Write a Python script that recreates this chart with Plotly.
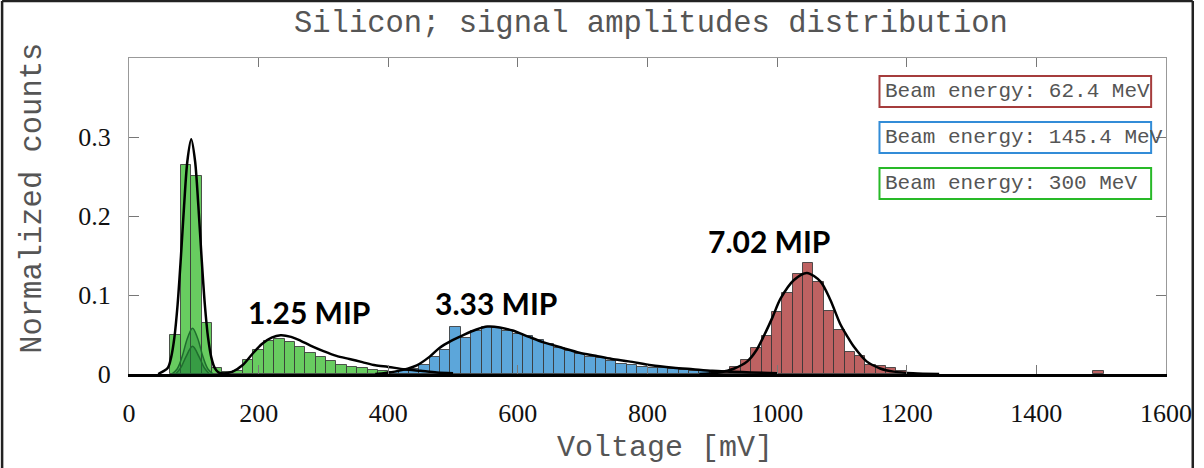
import plotly.graph_objects as go

# ---------------- data (16 mV bins, left edges) ----------------
BIN_W = 16

green_bins = [64, 80, 96, 112, 128, 144, 160, 176, 192, 208, 224, 240, 256, 272,
              288, 304, 320, 336, 352, 368, 384, 400, 416, 432, 448]
green_vals = [0.049, 0.265, 0.251, 0.065, 0.008, 0.002, 0.004, 0.018, 0.030, 0.042,
              0.044, 0.041, 0.034, 0.027, 0.021, 0.016, 0.012, 0.009, 0.007, 0.005,
              0.004, 0.003, 0.002, 0.002, 0.001]

blue_bins = [400, 416, 432, 448, 464, 480, 496, 512, 528, 544, 560, 576, 592, 608,
             624, 640, 656, 672, 688, 704, 720, 736, 752, 768, 784, 800, 816, 832,
             848, 864, 880, 896, 912, 928, 944]
blue_vals = [0.002, 0.004, 0.006, 0.011, 0.022, 0.030, 0.059, 0.045, 0.054, 0.059,
             0.058, 0.054, 0.051, 0.048, 0.043, 0.038, 0.033, 0.029, 0.025, 0.022,
             0.020, 0.016, 0.013, 0.011, 0.009, 0.008, 0.007, 0.006, 0.005, 0.004,
             0.004, 0.003, 0.003, 0.002, 0.001]

red_bins = [912, 928, 944, 960, 976, 992, 1008, 1024, 1040, 1056, 1072, 1088, 1104,
            1120, 1136, 1152, 1168, 1184, 1488]
red_vals = [0.003, 0.009, 0.018, 0.033, 0.048, 0.078, 0.103, 0.127, 0.141, 0.116,
            0.080, 0.056, 0.028, 0.023, 0.011, 0.010, 0.008, 0.004, 0.004]

# pedestal contributions of the other beam energies
ped_a_x = [66, 74, 82, 90, 98, 106, 114, 122, 130]
ped_a_y = [0.0, 0.006, 0.022, 0.045, 0.058, 0.045, 0.022, 0.006, 0.0]
ped_b_x = [72, 80, 88, 98, 108, 116, 124]
ped_b_y = [0.0, 0.008, 0.022, 0.035, 0.022, 0.008, 0.0]

# fitted curves
fit_ped_x = [45, 60, 65, 70, 75, 80, 85, 90, 96, 102, 107, 112, 117, 122, 127, 132, 138, 150]
fit_ped_y = [0.0, 0.008, 0.021, 0.046, 0.088, 0.147, 0.213, 0.269, 0.297, 0.269, 0.213,
             0.147, 0.088, 0.046, 0.021, 0.008, 0.002, 0.0]

fit_g_x = [140, 160, 175, 190, 205, 220, 234, 250, 265, 280, 300, 320, 340, 360, 380,
           400, 425, 450, 475, 500]
fit_g_y = [0.0, 0.003, 0.011, 0.025, 0.038, 0.046, 0.049, 0.047, 0.042, 0.036, 0.029,
           0.023, 0.019, 0.015, 0.011, 0.009, 0.006, 0.004, 0.002, 0.001]

fit_b_x = [380, 410, 444, 464, 479, 497, 515, 535, 553, 572, 592, 617, 640, 669, 695,
           720, 745, 771, 806, 840, 870, 900, 930, 960, 1000]
fit_b_y = [0.0, 0.003, 0.011, 0.022, 0.033, 0.042, 0.049, 0.056, 0.060, 0.059, 0.055,
           0.047, 0.040, 0.033, 0.027, 0.023, 0.019, 0.016, 0.011, 0.008, 0.006, 0.004,
           0.003, 0.002, 0.001]

fit_r_x = [880, 910, 934, 954, 968, 980, 993, 1005, 1026, 1046, 1067, 1082, 1097, 1108,
           1118, 1138, 1159, 1180, 1210, 1250]
fit_r_y = [0.0, 0.002, 0.007, 0.016, 0.030, 0.049, 0.072, 0.095, 0.119, 0.128, 0.117,
           0.094, 0.064, 0.048, 0.035, 0.016, 0.007, 0.003, 0.001, 0.0]

mip_labels = ["1.25 MIP", "3.33 MIP", "7.02 MIP"]
mip_x = [277, 566, 988]
mip_y = [0.0785, 0.090, 0.168]

energies = ["62.4 MeV", "145.4 MeV", "300 MeV"]
x_ticks = [0, 200, 400, 600, 800, 1000, 1200, 1400, 1600]
y_ticks = [0, 0.1, 0.2, 0.3]

# ---------------- styles ----------------
GREEN = "rgb(104,204,96)"
BLUE = "rgb(92,166,218)"
RED = "rgb(190,98,98)"
EDGE = "rgba(55,55,55,0.85)"
GREY = "#555555"
MONO = "Liberation Mono, Courier New, monospace"

# plot area in pixels (figure 1204 x 468)
W, H = 1204, 468
L, R, T, B = 129, 29, 58, 94
PW, PH = W - L - R, H - T - B


def px(x):
    return (x - L) / PW


def py(y):
    return (H - B - y) / PH


fig = go.Figure()


def centers(bins):
    return [b + BIN_W / 2 for b in bins]


for bins, vals, col in [(green_bins, green_vals, GREEN),
                        (blue_bins, blue_vals, BLUE),
                        (red_bins, red_vals, RED)]:
    fig.add_trace(go.Bar(x=centers(bins), y=vals, width=BIN_W,
                         marker=dict(color=col, line=dict(color=EDGE, width=1)),
                         showlegend=False, hoverinfo="skip"))

for xs, ys in [(ped_a_x, ped_a_y), (ped_b_x, ped_b_y)]:
    fig.add_trace(go.Scatter(x=xs, y=ys, mode="lines", fill="tozeroy",
                             fillcolor="rgba(20,120,50,0.35)",
                             line=dict(color="rgb(30,110,45)", width=1.5, shape="spline"),
                             showlegend=False, hoverinfo="skip"))

for xs, ys in [(fit_ped_x, fit_ped_y), (fit_g_x, fit_g_y),
               (fit_b_x, fit_b_y), (fit_r_x, fit_r_y)]:
    fig.add_trace(go.Scatter(x=xs, y=ys, mode="lines",
                             line=dict(color="black", width=2.5, shape="spline", smoothing=0.8),
                             showlegend=False, hoverinfo="skip"))

# helper trace so the top axis is drawn
fig.add_trace(go.Scatter(x=[0, 1600], y=[0, 0], xaxis="x2", mode="lines",
                         line=dict(width=0), opacity=0, showlegend=False, hoverinfo="skip"))

annotations = []
for t, x, y in zip(mip_labels, mip_x, mip_y):
    annotations.append(dict(x=x, y=y, xref="x", yref="y", text=t, showarrow=False,
                            font=dict(family="Lato, Open Sans, sans-serif", size=30,
                                      color="black", weight="bold")))

# beam-energy boxes
shapes = []
box_cols = ["rgb(165,60,60)", "rgb(50,140,215)", "rgb(40,185,40)"]
box_tops = [76, 122, 168]
for e, col, top in zip(energies, box_cols, box_tops):
    shapes.append(dict(type="rect", xref="paper", yref="paper",
                       x0=px(886), x1=px(1160), y0=py(top + 31), y1=py(top),
                       line=dict(color=col, width=2), fillcolor="white", layer="above"))
    annotations.append(dict(xref="paper", yref="paper", x=px(890), y=py(top + 15.5),
                            xanchor="left", yanchor="middle", text="Beam energy: " + e,
                            showarrow=False, font=dict(family=MONO, size=21, color=GREY)))

# titles
annotations.append(dict(xref="paper", yref="paper", x=px(656), y=py(24),
                        text="Silicon; signal amplitudes distribution", showarrow=False,
                        xanchor="center", yanchor="middle",
                        font=dict(family=MONO, size=30.5, color=GREY)))
annotations.append(dict(xref="paper", yref="paper", x=px(670), y=py(448),
                        text="Voltage [mV]", showarrow=False,
                        xanchor="center", yanchor="middle",
                        font=dict(family=MONO, size=30, color=GREY)))
annotations.append(dict(xref="paper", yref="paper", x=px(32), y=py(198),
                        text="Normalized counts", showarrow=False, textangle=-90,
                        xanchor="center", yanchor="middle",
                        font=dict(family=MONO, size=30.5, color=GREY)))

# outer frame of the figure
for x0, y0, x1, y1 in [(1, 1, 1, H), (1, 1, W - 2, 1), (W - 2, 1, W - 2, H)]:
    shapes.append(dict(type="line", xref="paper", yref="paper",
                       x0=px(x0), y0=py(y0), x1=px(x1), y1=py(y1),
                       line=dict(color="#222", width=2.5)))

tickfont = dict(family="Liberation Serif, Times New Roman, serif", size=26, color="#111")

fig.update_layout(
    width=W, height=H,
    margin=dict(l=L, r=R, t=T, b=B, pad=0),
    paper_bgcolor="white", plot_bgcolor="white",
    barmode="overlay", bargap=0,
    xaxis=dict(range=[0, 1600], tickvals=x_ticks, ticks="inside", ticklen=9,
               tickcolor="#777", tickwidth=1, showline=True, linecolor="black",
               linewidth=2.5, showgrid=False, zeroline=False, tickfont=tickfont,
               ticklabelstandoff=14),
    xaxis2=dict(range=[0, 1600], overlaying="x", side="top", tickvals=x_ticks,
                ticks="inside", ticklen=9, tickcolor="#777", showline=True,
                linecolor="#999", linewidth=1.2, showticklabels=False,
                showgrid=False, zeroline=False),
    yaxis=dict(range=[0, 0.4], tickvals=y_ticks, ticktext=["0", "0.1", "0.2", "0.3"],
               ticks="inside", ticklen=10, tickcolor="#777", showline=True,
               linecolor="#999", linewidth=1.2, mirror="ticks", showgrid=False,
               zeroline=False, tickfont=tickfont, ticklabelstandoff=12),
    annotations=annotations,
    shapes=shapes,
)

fig.write_html("out.html")
